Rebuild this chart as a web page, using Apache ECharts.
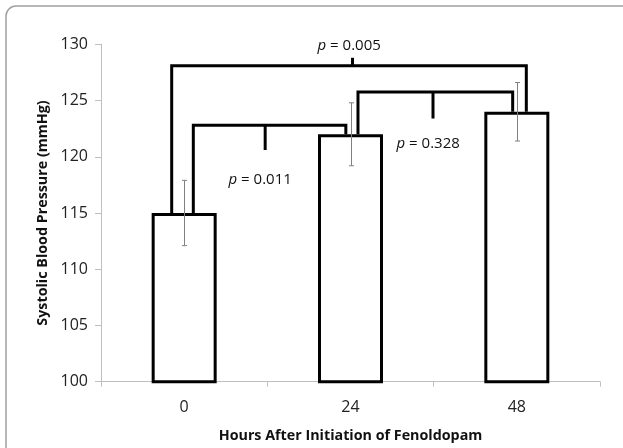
<!DOCTYPE html>
<html>
<head>
<meta charset="utf-8">
<script src="https://cdn.jsdelivr.net/npm/echarts@6/dist/echarts.min.js"></script>
<style>html,body{margin:0;padding:0;background:#fff}#c{width:623px;height:448px}</style>
</head>
<body>
<div id="c"></div>
<script>
// ---- data ----
var categories = ['0', '24', '48'];
var meanSBP = [115, 122, 124];
var errLow = [112.1, 119.2, 121.4];
var errHigh = [117.9, 124.8, 126.6];
// brackets: [leftX, rightX, topY, leftEndY, rightEndY, tickX, tickEndY] (x in band units 0..3)
var brackets = [
  [0.425, 2.557, 128.1, 115, 124, 1.512, 128.8],
  [0.555, 1.472, 122.8, 115, 122, 0.987, 120.6],
  [1.545, 2.475, 125.75, 122, 124, 1.996, 123.4]
];
var pLabels = [
  [1.492, 129.85, '0.005'],
  [0.957, 117.95, '0.011'],
  [1.967, 121.15, '0.328']
];
var yTicks = {min: 100, max: 130, interval: 5};

var FONT = 'Open Sans';
var chart = echarts.init(document.getElementById('c'), null, {renderer: 'canvas'});
var option = {
  animation: false,
  backgroundColor: '#fff',
  textStyle: {fontFamily: FONT},
  graphic: [{
    type: 'rect', silent: true, z: -10,
    shape: {x: 6, y: 6, width: 700, height: 600, r: 10},
    style: {fill: 'none', stroke: '#a0a0a0', lineWidth: 1.5}
  }],
  grid: {left: 101, right: 23, top: 44.3, bottom: 66.3, containLabel: false},
  xAxis: [{
    type: 'category', data: categories, boundaryGap: true,
    axisLine: {lineStyle: {color: '#bfbfbf', width: 1}},
    axisTick: {show: true, length: 5, lineStyle: {color: '#bfbfbf'}},
    axisLabel: {color: '#222', fontSize: 16, margin: 18, fontFamily: FONT},
    name: 'Hours After Initiation of Fenoldopam', nameLocation: 'middle', nameGap: 47,
    nameTextStyle: {color: '#111', fontSize: 14.3, fontWeight: 'bold', fontFamily: FONT}
  }, {
    type: 'value', min: 0, max: 3, show: false
  }],
  yAxis: [{
    type: 'value', min: yTicks.min, max: yTicks.max, interval: yTicks.interval,
    splitLine: {show: false},
    axisLine: {show: true, lineStyle: {color: '#bfbfbf', width: 1}},
    axisTick: {show: true, length: 6, lineStyle: {color: '#bfbfbf'}},
    axisLabel: {color: '#222', fontSize: 16, margin: 13, fontFamily: FONT},
    name: 'Systolic Blood Pressure (mmHg)', nameLocation: 'middle', nameGap: 49,
    nameTextStyle: {color: '#111', fontSize: 14.3, fontWeight: 'bold', fontFamily: FONT}
  }],
  series: [{
    type: 'bar', data: meanSBP, barWidth: 65,
    itemStyle: {color: '#fff', borderColor: '#000', borderWidth: 3},
    z: 2
  }, {
    type: 'custom', z: 5,
    data: categories.map(function (c, i) { return [i, errLow[i], errHigh[i]]; }),
    renderItem: function (params, api) {
      var lo = api.coord([api.value(0), api.value(1)]);
      var hi = api.coord([api.value(0), api.value(2)]);
      var x = Math.round(lo[0]) + 0.5, w = 2.5;
      var st = {stroke: '#808080', lineWidth: 1};
      return {type: 'group', children: [
        {type: 'line', shape: {x1: x, y1: lo[1], x2: x, y2: hi[1]}, style: st},
        {type: 'line', shape: {x1: x - w, y1: lo[1], x2: x + w, y2: lo[1]}, style: st},
        {type: 'line', shape: {x1: x - w, y1: hi[1], x2: x + w, y2: hi[1]}, style: st}
      ]};
    }
  }, {
    type: 'custom', xAxisIndex: 1, z: 4,
    data: brackets,
    renderItem: function (params, api) {
      var L = api.coord([api.value(0), api.value(2)]);
      var R = api.coord([api.value(1), api.value(2)]);
      var Le = api.coord([api.value(0), api.value(3)]);
      var Re = api.coord([api.value(1), api.value(4)]);
      var T0 = api.coord([api.value(5), api.value(2)]);
      var T1 = api.coord([api.value(5), api.value(6)]);
      var st = {stroke: '#000', lineWidth: 3, fill: 'none', lineJoin: 'miter'};
      return {type: 'group', children: [
        {type: 'polyline', shape: {points: [Le, L, R, Re]}, style: st},
        {type: 'line', shape: {x1: T0[0], y1: T0[1], x2: T1[0], y2: T1[1]}, style: st}
      ]};
    }
  }, {
    type: 'custom', xAxisIndex: 1, z: 6,
    data: pLabels,
    renderItem: function (params, api) {
      var p = api.coord([api.value(0), api.value(1)]);
      return {
        type: 'text', x: p[0], y: p[1],
        style: {
          text: '{i|p} = ' + pLabels[params.dataIndex][2],
          align: 'center', verticalAlign: 'middle',
          fill: '#111', fontSize: 15, fontFamily: FONT,
          rich: {i: {fontStyle: 'italic', fontSize: 15, fontFamily: FONT, fill: '#111'}}
        }
      };
    }
  }]
};
chart.setOption(option);
</script>
</body>
</html>
